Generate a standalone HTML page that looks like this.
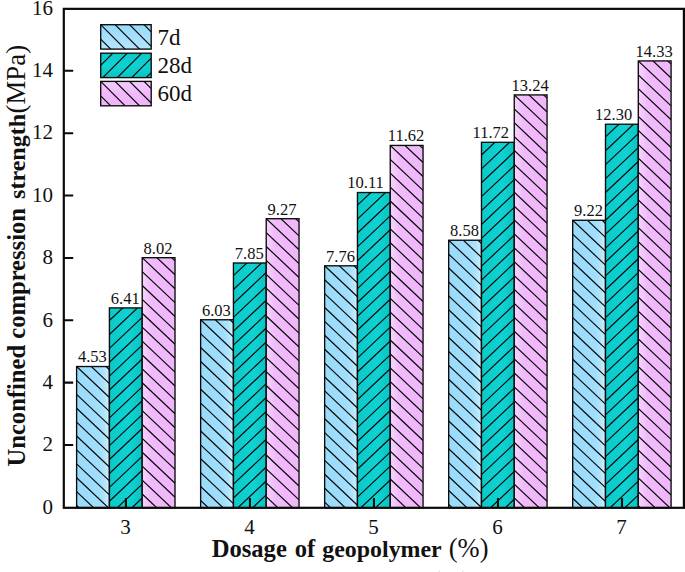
<!DOCTYPE html>
<html lang="en"><head><meta charset="utf-8"><title>Unconfined compression strength vs. dosage of geopolymer</title>
<style>html,body{margin:0;padding:0;background:#fff}body{width:685px;height:572px;overflow:hidden}svg{display:block}text{font-family:"Liberation Serif", "Times New Roman", serif;fill:#111}</style>
</head><body>
<svg width="685" height="572" viewBox="0 0 685 572">
<defs>
<linearGradient id="gb" x1="0" y1="0" x2="1" y2="0"><stop offset="0" stop-color="#9adbfb"/><stop offset="0.68" stop-color="#a0defc"/><stop offset="0.84" stop-color="#afe4fd"/><stop offset="0.95" stop-color="#c7edfe"/><stop offset="1" stop-color="#bce8fd"/></linearGradient>
<linearGradient id="gg" x1="0" y1="0" x2="1" y2="0"><stop offset="0" stop-color="#0ac9c9"/><stop offset="0.6" stop-color="#10d2d2"/><stop offset="1" stop-color="#09c4c4"/></linearGradient>
<linearGradient id="gp" x1="0" y1="0" x2="1" y2="0"><stop offset="0" stop-color="#f5ccfc"/><stop offset="0.07" stop-color="#f5cefc"/><stop offset="0.27" stop-color="#f1bbfb"/><stop offset="1" stop-color="#f0b6fa"/></linearGradient>
<linearGradient id="lb" x1="0" y1="0" x2="0" y2="1"><stop offset="0" stop-color="#97dafb"/><stop offset="1" stop-color="#b4e5fd"/></linearGradient>
<linearGradient id="lg" x1="0" y1="0" x2="0" y2="1"><stop offset="0" stop-color="#0ac9c9"/><stop offset="0.5" stop-color="#10d2d2"/><stop offset="1" stop-color="#09c4c4"/></linearGradient>
<linearGradient id="lp" x1="0" y1="0" x2="0" y2="1"><stop offset="0" stop-color="#f5cdfc"/><stop offset="0.5" stop-color="#f1b9fb"/><stop offset="1" stop-color="#f0b5fa"/></linearGradient>
<clipPath id="c0"><rect x="76.61" y="366.53" width="32.8" height="141.27"/></clipPath><clipPath id="c1"><rect x="109.41" y="307.91" width="32.8" height="199.89"/></clipPath><clipPath id="c2"><rect x="142.21" y="257.7" width="32.8" height="250.1"/></clipPath><clipPath id="c3"><rect x="200.63" y="319.76" width="32.8" height="188.04"/></clipPath><clipPath id="c4"><rect x="233.43" y="263" width="32.8" height="244.8"/></clipPath><clipPath id="c5"><rect x="266.23" y="218.72" width="32.8" height="289.08"/></clipPath><clipPath id="c6"><rect x="324.65" y="265.81" width="32.8" height="241.99"/></clipPath><clipPath id="c7"><rect x="357.45" y="192.53" width="32.8" height="315.27"/></clipPath><clipPath id="c8"><rect x="390.25" y="145.44" width="32.8" height="362.36"/></clipPath><clipPath id="c9"><rect x="448.67" y="240.24" width="32.8" height="267.56"/></clipPath><clipPath id="c10"><rect x="481.47" y="142.32" width="32.8" height="365.48"/></clipPath><clipPath id="c11"><rect x="514.27" y="94.92" width="32.8" height="412.88"/></clipPath><clipPath id="c12"><rect x="572.69" y="220.28" width="32.8" height="287.52"/></clipPath><clipPath id="c13"><rect x="605.49" y="124.23" width="32.8" height="383.57"/></clipPath><clipPath id="c14"><rect x="638.29" y="60.93" width="32.8" height="446.87"/></clipPath><clipPath id="c15"><rect x="100.7" y="24.7" width="50.5" height="24.4"/></clipPath><clipPath id="c16"><rect x="100.7" y="53.2" width="50.5" height="24.4"/></clipPath><clipPath id="c17"><rect x="100.7" y="81.4" width="50.5" height="24.4"/></clipPath>
</defs>
<rect width="685" height="572" fill="#fff"/>
<g>
<rect x="76.61" y="366.53" width="32.8" height="141.27" fill="url(#gb)"/><path clip-path="url(#c0)" d="M76.61 338.73l32.8 31M76.61 352.63l32.8 31M76.61 366.53l32.8 31M76.61 380.43l32.8 31M76.61 394.33l32.8 31M76.61 408.23l32.8 31M76.61 422.13l32.8 31M76.61 436.03l32.8 31M76.61 449.93l32.8 31M76.61 463.83l32.8 31M76.61 477.73l32.8 31M76.61 491.63l32.8 31M76.61 505.53l32.8 31" stroke="#0a0a0a" stroke-width="1.2" fill="none"/><rect x="76.61" y="366.53" width="32.8" height="141.27" fill="none" stroke="#0a0a0a" stroke-width="1.35"/>
<rect x="109.41" y="307.91" width="32.8" height="199.89" fill="url(#gg)"/><path clip-path="url(#c1)" d="M109.41 320.56l32.8 -31M109.41 334.46l32.8 -31M109.41 348.36l32.8 -31M109.41 362.26l32.8 -31M109.41 376.16l32.8 -31M109.41 390.06l32.8 -31M109.41 403.96l32.8 -31M109.41 417.86l32.8 -31M109.41 431.76l32.8 -31M109.41 445.66l32.8 -31M109.41 459.56l32.8 -31M109.41 473.46l32.8 -31M109.41 487.36l32.8 -31M109.41 501.26l32.8 -31M109.41 515.16l32.8 -31M109.41 529.06l32.8 -31" stroke="#0a0a0a" stroke-width="1.2" fill="none"/><rect x="109.41" y="307.91" width="32.8" height="199.89" fill="none" stroke="#0a0a0a" stroke-width="1.35"/>
<rect x="142.21" y="257.7" width="32.8" height="250.1" fill="url(#gp)"/><path clip-path="url(#c2)" d="M142.21 229.9l32.8 31M142.21 243.8l32.8 31M142.21 257.7l32.8 31M142.21 271.6l32.8 31M142.21 285.5l32.8 31M142.21 299.4l32.8 31M142.21 313.3l32.8 31M142.21 327.2l32.8 31M142.21 341.1l32.8 31M142.21 355l32.8 31M142.21 368.9l32.8 31M142.21 382.8l32.8 31M142.21 396.7l32.8 31M142.21 410.6l32.8 31M142.21 424.5l32.8 31M142.21 438.4l32.8 31M142.21 452.3l32.8 31M142.21 466.2l32.8 31M142.21 480.1l32.8 31M142.21 494l32.8 31M142.21 507.9l32.8 31" stroke="#0a0a0a" stroke-width="1.2" fill="none"/><rect x="142.21" y="257.7" width="32.8" height="250.1" fill="none" stroke="#0a0a0a" stroke-width="1.35"/>
<rect x="200.63" y="319.76" width="32.8" height="188.04" fill="url(#gb)"/><path clip-path="url(#c3)" d="M200.63 291.96l32.8 31M200.63 305.86l32.8 31M200.63 319.76l32.8 31M200.63 333.66l32.8 31M200.63 347.56l32.8 31M200.63 361.46l32.8 31M200.63 375.36l32.8 31M200.63 389.26l32.8 31M200.63 403.16l32.8 31M200.63 417.06l32.8 31M200.63 430.96l32.8 31M200.63 444.86l32.8 31M200.63 458.76l32.8 31M200.63 472.66l32.8 31M200.63 486.56l32.8 31M200.63 500.46l32.8 31" stroke="#0a0a0a" stroke-width="1.2" fill="none"/><rect x="200.63" y="319.76" width="32.8" height="188.04" fill="none" stroke="#0a0a0a" stroke-width="1.35"/>
<rect x="233.43" y="263" width="32.8" height="244.8" fill="url(#gg)"/><path clip-path="url(#c4)" d="M233.43 275.65l32.8 -31M233.43 289.55l32.8 -31M233.43 303.45l32.8 -31M233.43 317.35l32.8 -31M233.43 331.25l32.8 -31M233.43 345.15l32.8 -31M233.43 359.05l32.8 -31M233.43 372.95l32.8 -31M233.43 386.85l32.8 -31M233.43 400.75l32.8 -31M233.43 414.65l32.8 -31M233.43 428.55l32.8 -31M233.43 442.45l32.8 -31M233.43 456.35l32.8 -31M233.43 470.25l32.8 -31M233.43 484.15l32.8 -31M233.43 498.05l32.8 -31M233.43 511.95l32.8 -31M233.43 525.85l32.8 -31M233.43 539.75l32.8 -31" stroke="#0a0a0a" stroke-width="1.2" fill="none"/><rect x="233.43" y="263" width="32.8" height="244.8" fill="none" stroke="#0a0a0a" stroke-width="1.35"/>
<rect x="266.23" y="218.72" width="32.8" height="289.08" fill="url(#gp)"/><path clip-path="url(#c5)" d="M266.23 190.92l32.8 31M266.23 204.82l32.8 31M266.23 218.72l32.8 31M266.23 232.62l32.8 31M266.23 246.52l32.8 31M266.23 260.42l32.8 31M266.23 274.32l32.8 31M266.23 288.22l32.8 31M266.23 302.12l32.8 31M266.23 316.02l32.8 31M266.23 329.92l32.8 31M266.23 343.82l32.8 31M266.23 357.72l32.8 31M266.23 371.62l32.8 31M266.23 385.52l32.8 31M266.23 399.42l32.8 31M266.23 413.32l32.8 31M266.23 427.22l32.8 31M266.23 441.12l32.8 31M266.23 455.02l32.8 31M266.23 468.92l32.8 31M266.23 482.82l32.8 31M266.23 496.72l32.8 31" stroke="#0a0a0a" stroke-width="1.2" fill="none"/><rect x="266.23" y="218.72" width="32.8" height="289.08" fill="none" stroke="#0a0a0a" stroke-width="1.35"/>
<rect x="324.65" y="265.81" width="32.8" height="241.99" fill="url(#gb)"/><path clip-path="url(#c6)" d="M324.65 238.01l32.8 31M324.65 251.91l32.8 31M324.65 265.81l32.8 31M324.65 279.71l32.8 31M324.65 293.61l32.8 31M324.65 307.51l32.8 31M324.65 321.41l32.8 31M324.65 335.31l32.8 31M324.65 349.21l32.8 31M324.65 363.11l32.8 31M324.65 377.01l32.8 31M324.65 390.91l32.8 31M324.65 404.81l32.8 31M324.65 418.71l32.8 31M324.65 432.61l32.8 31M324.65 446.51l32.8 31M324.65 460.41l32.8 31M324.65 474.31l32.8 31M324.65 488.21l32.8 31M324.65 502.11l32.8 31" stroke="#0a0a0a" stroke-width="1.2" fill="none"/><rect x="324.65" y="265.81" width="32.8" height="241.99" fill="none" stroke="#0a0a0a" stroke-width="1.35"/>
<rect x="357.45" y="192.53" width="32.8" height="315.27" fill="url(#gg)"/><path clip-path="url(#c7)" d="M357.45 205.18l32.8 -31M357.45 219.08l32.8 -31M357.45 232.98l32.8 -31M357.45 246.88l32.8 -31M357.45 260.78l32.8 -31M357.45 274.68l32.8 -31M357.45 288.58l32.8 -31M357.45 302.48l32.8 -31M357.45 316.38l32.8 -31M357.45 330.28l32.8 -31M357.45 344.18l32.8 -31M357.45 358.08l32.8 -31M357.45 371.98l32.8 -31M357.45 385.88l32.8 -31M357.45 399.78l32.8 -31M357.45 413.68l32.8 -31M357.45 427.58l32.8 -31M357.45 441.48l32.8 -31M357.45 455.38l32.8 -31M357.45 469.28l32.8 -31M357.45 483.18l32.8 -31M357.45 497.08l32.8 -31M357.45 510.98l32.8 -31M357.45 524.88l32.8 -31M357.45 538.78l32.8 -31" stroke="#0a0a0a" stroke-width="1.2" fill="none"/><rect x="357.45" y="192.53" width="32.8" height="315.27" fill="none" stroke="#0a0a0a" stroke-width="1.35"/>
<rect x="390.25" y="145.44" width="32.8" height="362.36" fill="url(#gp)"/><path clip-path="url(#c8)" d="M390.25 117.64l32.8 31M390.25 131.54l32.8 31M390.25 145.44l32.8 31M390.25 159.34l32.8 31M390.25 173.24l32.8 31M390.25 187.14l32.8 31M390.25 201.04l32.8 31M390.25 214.94l32.8 31M390.25 228.84l32.8 31M390.25 242.74l32.8 31M390.25 256.64l32.8 31M390.25 270.54l32.8 31M390.25 284.44l32.8 31M390.25 298.34l32.8 31M390.25 312.24l32.8 31M390.25 326.14l32.8 31M390.25 340.04l32.8 31M390.25 353.94l32.8 31M390.25 367.84l32.8 31M390.25 381.74l32.8 31M390.25 395.64l32.8 31M390.25 409.54l32.8 31M390.25 423.44l32.8 31M390.25 437.34l32.8 31M390.25 451.24l32.8 31M390.25 465.14l32.8 31M390.25 479.04l32.8 31M390.25 492.94l32.8 31M390.25 506.84l32.8 31" stroke="#0a0a0a" stroke-width="1.2" fill="none"/><rect x="390.25" y="145.44" width="32.8" height="362.36" fill="none" stroke="#0a0a0a" stroke-width="1.35"/>
<rect x="448.67" y="240.24" width="32.8" height="267.56" fill="url(#gb)"/><path clip-path="url(#c9)" d="M448.67 212.44l32.8 31M448.67 226.34l32.8 31M448.67 240.24l32.8 31M448.67 254.14l32.8 31M448.67 268.04l32.8 31M448.67 281.94l32.8 31M448.67 295.84l32.8 31M448.67 309.74l32.8 31M448.67 323.64l32.8 31M448.67 337.54l32.8 31M448.67 351.44l32.8 31M448.67 365.34l32.8 31M448.67 379.24l32.8 31M448.67 393.14l32.8 31M448.67 407.04l32.8 31M448.67 420.94l32.8 31M448.67 434.84l32.8 31M448.67 448.74l32.8 31M448.67 462.64l32.8 31M448.67 476.54l32.8 31M448.67 490.44l32.8 31M448.67 504.34l32.8 31" stroke="#0a0a0a" stroke-width="1.2" fill="none"/><rect x="448.67" y="240.24" width="32.8" height="267.56" fill="none" stroke="#0a0a0a" stroke-width="1.35"/>
<rect x="481.47" y="142.32" width="32.8" height="365.48" fill="url(#gg)"/><path clip-path="url(#c10)" d="M481.47 154.97l32.8 -31M481.47 168.87l32.8 -31M481.47 182.77l32.8 -31M481.47 196.67l32.8 -31M481.47 210.57l32.8 -31M481.47 224.47l32.8 -31M481.47 238.37l32.8 -31M481.47 252.27l32.8 -31M481.47 266.17l32.8 -31M481.47 280.07l32.8 -31M481.47 293.97l32.8 -31M481.47 307.87l32.8 -31M481.47 321.77l32.8 -31M481.47 335.67l32.8 -31M481.47 349.57l32.8 -31M481.47 363.47l32.8 -31M481.47 377.37l32.8 -31M481.47 391.27l32.8 -31M481.47 405.17l32.8 -31M481.47 419.07l32.8 -31M481.47 432.97l32.8 -31M481.47 446.87l32.8 -31M481.47 460.77l32.8 -31M481.47 474.67l32.8 -31M481.47 488.57l32.8 -31M481.47 502.47l32.8 -31M481.47 516.37l32.8 -31M481.47 530.27l32.8 -31" stroke="#0a0a0a" stroke-width="1.2" fill="none"/><rect x="481.47" y="142.32" width="32.8" height="365.48" fill="none" stroke="#0a0a0a" stroke-width="1.35"/>
<rect x="514.27" y="94.92" width="32.8" height="412.88" fill="url(#gp)"/><path clip-path="url(#c11)" d="M514.27 67.12l32.8 31M514.27 81.02l32.8 31M514.27 94.92l32.8 31M514.27 108.82l32.8 31M514.27 122.72l32.8 31M514.27 136.62l32.8 31M514.27 150.52l32.8 31M514.27 164.42l32.8 31M514.27 178.32l32.8 31M514.27 192.22l32.8 31M514.27 206.12l32.8 31M514.27 220.02l32.8 31M514.27 233.92l32.8 31M514.27 247.82l32.8 31M514.27 261.72l32.8 31M514.27 275.62l32.8 31M514.27 289.52l32.8 31M514.27 303.42l32.8 31M514.27 317.32l32.8 31M514.27 331.22l32.8 31M514.27 345.12l32.8 31M514.27 359.02l32.8 31M514.27 372.92l32.8 31M514.27 386.82l32.8 31M514.27 400.72l32.8 31M514.27 414.62l32.8 31M514.27 428.52l32.8 31M514.27 442.42l32.8 31M514.27 456.32l32.8 31M514.27 470.22l32.8 31M514.27 484.12l32.8 31M514.27 498.02l32.8 31" stroke="#0a0a0a" stroke-width="1.2" fill="none"/><rect x="514.27" y="94.92" width="32.8" height="412.88" fill="none" stroke="#0a0a0a" stroke-width="1.35"/>
<rect x="572.69" y="220.28" width="32.8" height="287.52" fill="url(#gb)"/><path clip-path="url(#c12)" d="M572.69 192.48l32.8 31M572.69 206.38l32.8 31M572.69 220.28l32.8 31M572.69 234.18l32.8 31M572.69 248.08l32.8 31M572.69 261.98l32.8 31M572.69 275.88l32.8 31M572.69 289.78l32.8 31M572.69 303.68l32.8 31M572.69 317.58l32.8 31M572.69 331.48l32.8 31M572.69 345.38l32.8 31M572.69 359.28l32.8 31M572.69 373.18l32.8 31M572.69 387.08l32.8 31M572.69 400.98l32.8 31M572.69 414.88l32.8 31M572.69 428.78l32.8 31M572.69 442.68l32.8 31M572.69 456.58l32.8 31M572.69 470.48l32.8 31M572.69 484.38l32.8 31M572.69 498.28l32.8 31" stroke="#0a0a0a" stroke-width="1.2" fill="none"/><rect x="572.69" y="220.28" width="32.8" height="287.52" fill="none" stroke="#0a0a0a" stroke-width="1.35"/>
<rect x="605.49" y="124.23" width="32.8" height="383.57" fill="url(#gg)"/><path clip-path="url(#c13)" d="M605.49 136.88l32.8 -31M605.49 150.78l32.8 -31M605.49 164.68l32.8 -31M605.49 178.58l32.8 -31M605.49 192.48l32.8 -31M605.49 206.38l32.8 -31M605.49 220.28l32.8 -31M605.49 234.18l32.8 -31M605.49 248.08l32.8 -31M605.49 261.98l32.8 -31M605.49 275.88l32.8 -31M605.49 289.78l32.8 -31M605.49 303.68l32.8 -31M605.49 317.58l32.8 -31M605.49 331.48l32.8 -31M605.49 345.38l32.8 -31M605.49 359.28l32.8 -31M605.49 373.18l32.8 -31M605.49 387.08l32.8 -31M605.49 400.98l32.8 -31M605.49 414.88l32.8 -31M605.49 428.78l32.8 -31M605.49 442.68l32.8 -31M605.49 456.58l32.8 -31M605.49 470.48l32.8 -31M605.49 484.38l32.8 -31M605.49 498.28l32.8 -31M605.49 512.18l32.8 -31M605.49 526.08l32.8 -31" stroke="#0a0a0a" stroke-width="1.2" fill="none"/><rect x="605.49" y="124.23" width="32.8" height="383.57" fill="none" stroke="#0a0a0a" stroke-width="1.35"/>
<rect x="638.29" y="60.93" width="32.8" height="446.87" fill="url(#gp)"/><path clip-path="url(#c14)" d="M638.29 33.13l32.8 31M638.29 47.03l32.8 31M638.29 60.93l32.8 31M638.29 74.83l32.8 31M638.29 88.73l32.8 31M638.29 102.63l32.8 31M638.29 116.53l32.8 31M638.29 130.43l32.8 31M638.29 144.33l32.8 31M638.29 158.23l32.8 31M638.29 172.13l32.8 31M638.29 186.03l32.8 31M638.29 199.93l32.8 31M638.29 213.83l32.8 31M638.29 227.73l32.8 31M638.29 241.63l32.8 31M638.29 255.53l32.8 31M638.29 269.43l32.8 31M638.29 283.33l32.8 31M638.29 297.23l32.8 31M638.29 311.13l32.8 31M638.29 325.03l32.8 31M638.29 338.93l32.8 31M638.29 352.83l32.8 31M638.29 366.73l32.8 31M638.29 380.63l32.8 31M638.29 394.53l32.8 31M638.29 408.43l32.8 31M638.29 422.33l32.8 31M638.29 436.23l32.8 31M638.29 450.13l32.8 31M638.29 464.03l32.8 31M638.29 477.93l32.8 31M638.29 491.83l32.8 31M638.29 505.73l32.8 31" stroke="#0a0a0a" stroke-width="1.2" fill="none"/><rect x="638.29" y="60.93" width="32.8" height="446.87" fill="none" stroke="#0a0a0a" stroke-width="1.35"/>
<rect x="100.7" y="24.7" width="50.5" height="24.4" fill="url(#lb)"/><path clip-path="url(#c15)" d="M100.7 -18.65l50.5 50.5M100.7 -4.2l50.5 50.5M100.7 10.25l50.5 50.5M100.7 24.7l50.5 50.5M100.7 39.15l50.5 50.5" stroke="#0a0a0a" stroke-width="1.2" fill="none"/><rect x="100.7" y="24.7" width="50.5" height="24.4" fill="none" stroke="#0a0a0a" stroke-width="1.35"/>
<rect x="100.7" y="53.2" width="50.5" height="24.4" fill="url(#lg)"/><path clip-path="url(#c16)" d="M100.7 65.3l50.5 -50.5M100.7 79.75l50.5 -50.5M100.7 94.2l50.5 -50.5M100.7 108.65l50.5 -50.5M100.7 123.1l50.5 -50.5" stroke="#0a0a0a" stroke-width="1.2" fill="none"/><rect x="100.7" y="53.2" width="50.5" height="24.4" fill="none" stroke="#0a0a0a" stroke-width="1.35"/>
<rect x="100.7" y="81.4" width="50.5" height="24.4" fill="url(#lp)"/><path clip-path="url(#c17)" d="M100.7 38.05l50.5 50.5M100.7 52.5l50.5 50.5M100.7 66.95l50.5 50.5M100.7 81.4l50.5 50.5M100.7 95.85l50.5 50.5" stroke="#0a0a0a" stroke-width="1.2" fill="none"/><rect x="100.7" y="81.4" width="50.5" height="24.4" fill="none" stroke="#0a0a0a" stroke-width="1.35"/>
</g>
<rect x="63.8" y="8.85" width="620.1" height="498.95" fill="none" stroke="#0a0a0a" stroke-width="2.2"/>
<path d="M63.8 445.03h9.4M63.8 382.66h9.4M63.8 320.29h9.4M63.8 257.93h9.4M63.8 195.56h9.4M63.8 133.19h9.4M63.8 70.82h9.4M125.91 507.8v-9.8M249.93 507.8v-9.8M373.95 507.8v-9.8M497.97 507.8v-9.8M621.99 507.8v-9.8" stroke="#0a0a0a" stroke-width="2.1" fill="none"/>
<g font-size="21">
<text x="52.9" y="513.7" text-anchor="end">0</text>
<text x="52.9" y="451.33" text-anchor="end">2</text>
<text x="52.9" y="388.96" text-anchor="end">4</text>
<text x="52.9" y="326.59" text-anchor="end">6</text>
<text x="52.9" y="264.23" text-anchor="end">8</text>
<text x="52.9" y="201.86" text-anchor="end">10</text>
<text x="52.9" y="139.49" text-anchor="end">12</text>
<text x="52.9" y="77.12" text-anchor="end">14</text>
<text x="52.9" y="14.75" text-anchor="end">16</text>
<text x="125.41" y="534.2" text-anchor="middle">3</text>
<text x="249.43" y="534.2" text-anchor="middle">4</text>
<text x="373.45" y="534.2" text-anchor="middle">5</text>
<text x="497.47" y="534.2" text-anchor="middle">6</text>
<text x="621.49" y="534.2" text-anchor="middle">7</text>
</g>
<g>
<text x="92.41" y="362.33" font-size="16.5" text-anchor="middle">4.53</text>
<text x="125.21" y="303.71" font-size="16.5" text-anchor="middle">6.41</text>
<text x="158.01" y="253.5" font-size="16.5" text-anchor="middle">8.02</text>
<text x="216.43" y="315.56" font-size="16.5" text-anchor="middle">6.03</text>
<text x="249.23" y="258.8" font-size="16.5" text-anchor="middle">7.85</text>
<text x="282.03" y="214.52" font-size="16.5" text-anchor="middle">9.27</text>
<text x="340.45" y="261.61" font-size="16.5" text-anchor="middle">7.76</text>
<text x="365.55" y="188.33" font-size="16.5" text-anchor="middle">10.11</text>
<text x="406.05" y="141.24" font-size="16.5" text-anchor="middle">11.62</text>
<text x="464.47" y="236.04" font-size="16.5" text-anchor="middle">8.58</text>
<text x="490.87" y="138.12" font-size="16.5" text-anchor="middle">11.72</text>
<text x="530.07" y="90.72" font-size="16.5" text-anchor="middle">13.24</text>
<text x="588.49" y="216.08" font-size="16.5" text-anchor="middle">9.22</text>
<text x="613.59" y="120.03" font-size="16.5" text-anchor="middle">12.30</text>
<text x="654.09" y="56.73" font-size="16.5" text-anchor="middle">14.33</text>
<text x="157.6" y="45" font-size="23">7d</text>
<text x="157.6" y="73" font-size="23">28d</text>
<text x="157.6" y="101" font-size="23">60d</text>
</g>
<text x="211.7" y="557" font-size="24.6" font-weight="bold">Dosage <tspan x="294.7">of </tspan><tspan x="322.3" font-size="23.9">geopolymer </tspan><tspan x="448.8" font-size="26.5" font-weight="normal">(%)</tspan></text>
<text transform="translate(24.6 466.5) rotate(-90)" font-size="24.6" font-weight="bold">Unconfined compression <tspan x="267.5" font-size="24.1">strength </tspan><tspan x="353" font-size="26.9" font-weight="normal">(MPa)</tspan></text>
<rect x="438.6" y="570.6" width="1.2" height="1.4" fill="#d9d9d9"/><rect x="462" y="570.6" width="1.2" height="1.4" fill="#d9d9d9"/>
</svg>
</body></html>
